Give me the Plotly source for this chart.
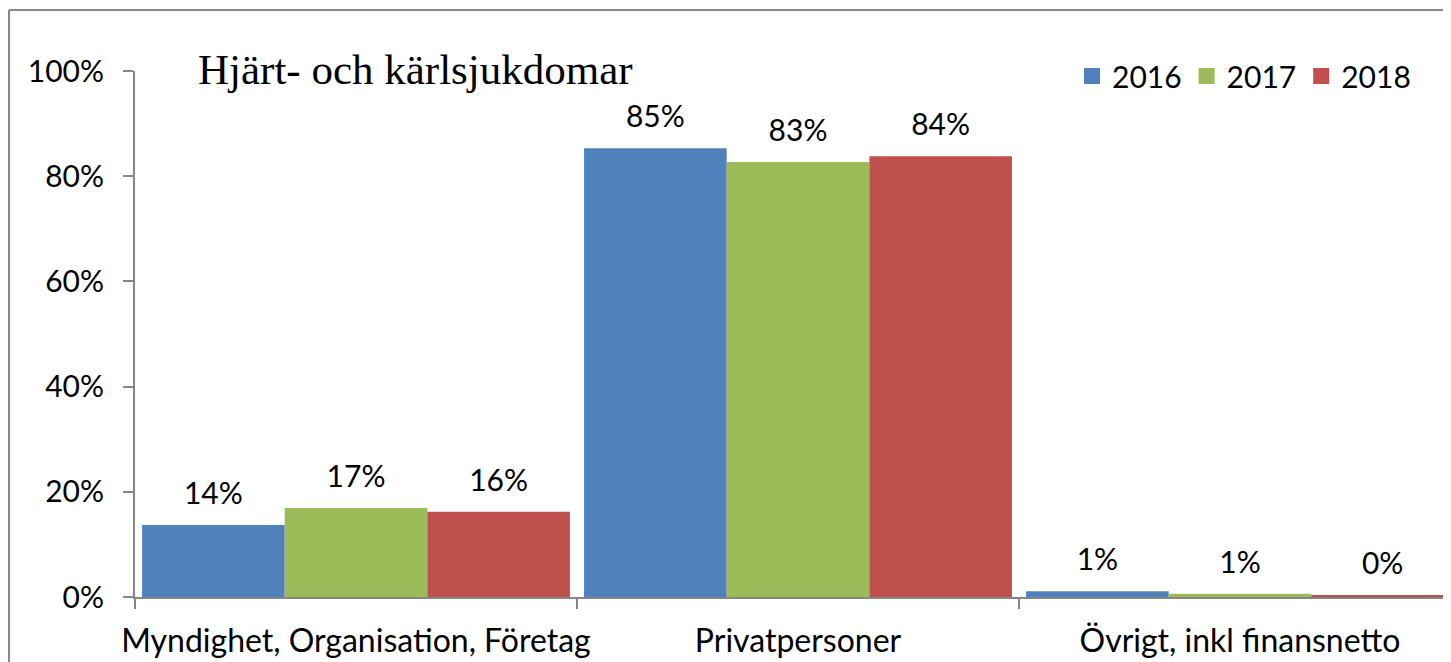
import plotly.graph_objects as go

categories = ["Myndighet, Organisation, Företag", "Privatpersoner", "Övrigt, inkl finansnetto"]
years = ["2016", "2017", "2018"]
values_2016 = [0.137, 0.853, 0.011]
values_2017 = [0.169, 0.827, 0.006]
values_2018 = [0.162, 0.838, 0.004]
colors = ["#4F81BD", "#9BBB59", "#C0504D"]
title_text = "Hjärt- och kärlsjukdomar"

# page has an 8px body margin; figure sized to fit the window
OFF = 8
W, H = 1443, 654
ML, MR, MT, MB = 127, 0, 63, 65
pw = W - ML - MR
ph = H - MT - MB

def px_x(x):  # page pixel -> paper x
    return (x - OFF - ML) / pw

def px_y(y):  # page pixel -> paper y
    return (H - MB - (y - OFF)) / ph

# invisible tall spacers lift the value labels a little higher above the bars
pad_span = "<span style='font-size:84px'>\u00a0</span>"
label_tpl = pad_span + "%{y:.0%}" + pad_span

fig = go.Figure()
for name, vals, col in zip(years, [values_2016, values_2017, values_2018], colors):
    fig.add_trace(go.Bar(
        x=categories, y=vals, name=name, showlegend=False,
        marker=dict(color=col, line=dict(width=0)),
        texttemplate=label_tpl, textposition="outside",
        textfont=dict(family="Lato", size=30, color="black"),
        cliponaxis=False,
    ))
# legend entries (square swatches)
for name, col in zip(years, colors):
    fig.add_trace(go.Scatter(
        x=[None], y=[None], mode="markers", name=name,
        marker=dict(symbol="square", size=20, color=col),
    ))

axis_col = "#868686"
fig.update_layout(
    width=W, height=H,
    margin=dict(l=ML, r=MR, t=MT, b=MB, pad=0, autoexpand=False),
    paper_bgcolor="white", plot_bgcolor="white",
    barmode="group", bargap=0.032, bargroupgap=0,
    font=dict(family="Lato", size=30, color="black"),
    showlegend=True,
    legend=dict(orientation="h", x=px_x(1072), xanchor="left", y=px_y(76), yanchor="middle",
                font=dict(family="Lato", size=30, color="black"),
                bgcolor="rgba(0,0,0,0)", itemwidth=30, tracegroupgap=0),
    xaxis=dict(range=[-0.5, pw / 442 - 0.5], showline=True, linecolor=axis_col, linewidth=2,
               ticks="outside", tickson="boundaries", ticklen=10, tickcolor=axis_col, tickwidth=2,
               showgrid=False, zeroline=False, ticklabelstandoff=15, tickangle=0, automargin=False,
               tickfont=dict(family="Lato", size=32, color="black")),
    yaxis=dict(range=[0, 1], tickformat=".0%", dtick=0.2, showline=True, linecolor=axis_col,
               linewidth=2, ticks="outside", ticklen=10, tickcolor=axis_col, tickwidth=2,
               showgrid=False, zeroline=False, ticklabelstandoff=13, automargin=False,
               tickfont=dict(family="Lato", size=30, color="black")),
    annotations=[dict(text=title_text, xref="paper", yref="paper", x=px_x(196), y=px_y(69),
                      xanchor="left", yanchor="middle", showarrow=False,
                      font=dict(family="Liberation Serif", size=43, color="black"))],
    shapes=[
        dict(type="line", xref="paper", yref="paper", x0=px_x(9), x1=px_x(1460), y0=px_y(10), y1=px_y(10),
             line=dict(color="#888888", width=2)),
        dict(type="line", xref="paper", yref="paper", x0=px_x(9), x1=px_x(9), y0=px_y(10), y1=px_y(670),
             line=dict(color="#888888", width=2)),
    ],
)

fig.write_html("out.html")
